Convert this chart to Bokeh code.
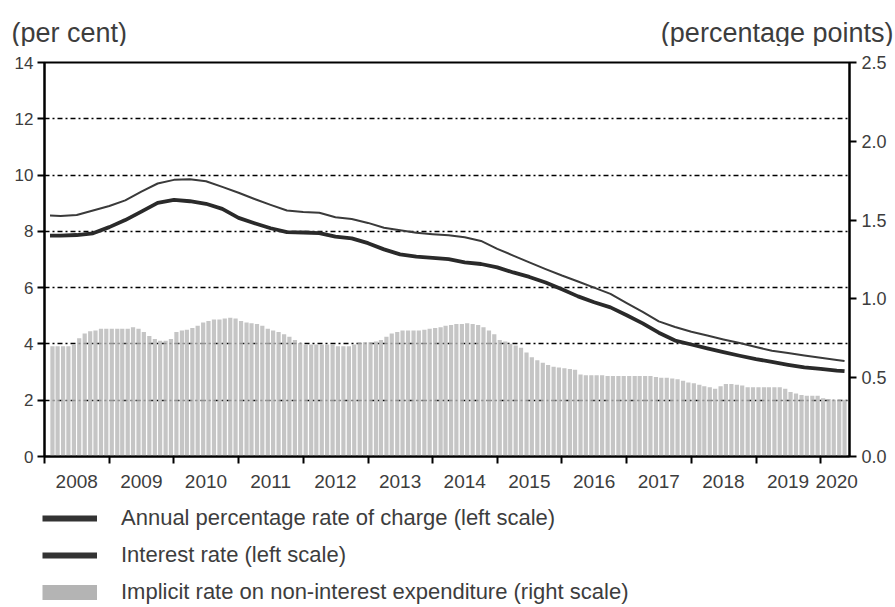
import pandas as pd
from bokeh.plotting import figure
from bokeh.layouts import column
from bokeh.models import (Range1d, LinearAxis, FixedTicker, Legend, LegendItem,
                          NumeralTickFormatter, CustomJSTickFormatter)
from bokeh.core.properties import value
from bokeh.embed import file_html
from bokeh.resources import INLINE

# ---------------- data ----------------
years = ["2008", "2009", "2010", "2011", "2012", "2013", "2014",
         "2015", "2016", "2017", "2018", "2019", "2020"]
year_label_dates = ["2008-07-01", "2009-07-01", "2010-07-01", "2011-07-01", "2012-07-01",
                    "2013-07-01", "2014-07-01", "2015-07-01", "2016-07-01", "2017-07-01",
                    "2018-07-01", "2019-07-01", "2020-04-01"]
year_tick_dates = ["2008-01-01", "2009-01-01", "2010-01-01", "2011-01-01", "2012-01-01",
                   "2013-01-01", "2014-01-01", "2015-01-01", "2016-01-01", "2017-01-01",
                   "2018-01-01", "2019-01-01", "2020-01-01"]

# Implicit rate on non-interest expenditure (right scale), monthly Feb 2008 - May 2020
implicit_rate = [
    0.70, 0.70, 0.70, 0.70, 0.71, 0.75, 0.78, 0.795, 0.80, 0.81, 0.81,
    0.81, 0.81, 0.81, 0.81, 0.82, 0.81, 0.79, 0.765, 0.745, 0.735, 0.735, 0.745,
    0.79, 0.80, 0.805, 0.815, 0.83, 0.85, 0.86, 0.87, 0.87, 0.875, 0.88, 0.875,
    0.86, 0.85, 0.845, 0.84, 0.83, 0.81, 0.80, 0.79, 0.775, 0.76, 0.74, 0.72,
    0.71, 0.71, 0.71, 0.71, 0.71, 0.71, 0.70, 0.70, 0.70, 0.71, 0.72, 0.725,
    0.725, 0.73, 0.74, 0.76, 0.78, 0.79, 0.80, 0.80, 0.80, 0.80, 0.805, 0.81,
    0.815, 0.82, 0.83, 0.835, 0.84, 0.84, 0.845, 0.84, 0.835, 0.82, 0.80, 0.775,
    0.74, 0.73, 0.715, 0.705, 0.69, 0.66, 0.63, 0.61, 0.595, 0.58, 0.57, 0.565,
    0.56, 0.555, 0.55, 0.52, 0.515, 0.515, 0.515, 0.515, 0.51, 0.51, 0.51, 0.51,
    0.51, 0.51, 0.51, 0.51, 0.51, 0.505, 0.50, 0.50, 0.495, 0.49, 0.48, 0.47,
    0.465, 0.455, 0.445, 0.44, 0.43, 0.445, 0.46, 0.46, 0.455, 0.45, 0.44, 0.44,
    0.44, 0.44, 0.44, 0.44, 0.44, 0.43, 0.41, 0.40, 0.39, 0.385, 0.385, 0.385,
    0.37, 0.365, 0.36, 0.36, 0.36,
]

# Lines (left scale): first point, quarterly points, last point
line_dates = (["2008-02-01"]
              + [d.strftime("%Y-%m-%d") for d in pd.date_range("2008-04-01", "2020-04-01", freq="QS")]
              + ["2020-05-15"])
aprc = [
    8.56,
    8.55, 8.58, 8.74, 8.90, 9.10, 9.41, 9.70, 9.83, 9.85, 9.78, 9.58, 9.37, 9.15, 8.94, 8.74,
    8.69, 8.66, 8.50, 8.44, 8.30, 8.13, 8.04, 7.95, 7.90, 7.86, 7.79, 7.66, 7.38, 7.14, 6.90,
    6.66, 6.43, 6.22, 6.00, 5.78, 5.45, 5.14, 4.80, 4.60, 4.43, 4.30, 4.16, 4.03, 3.89, 3.76,
    3.68, 3.59, 3.51, 3.43,
    3.39,
]
interest_rate = [
    7.85,
    7.85, 7.87, 7.93, 8.15, 8.40, 8.70, 9.01, 9.12, 9.07, 8.98, 8.80, 8.48, 8.29, 8.11, 7.97,
    7.96, 7.94, 7.81, 7.75, 7.58, 7.36, 7.18, 7.10, 7.06, 7.01, 6.90, 6.84, 6.72, 6.54, 6.38,
    6.18, 5.94, 5.69, 5.48, 5.30, 5.02, 4.73, 4.40, 4.12, 3.98, 3.84, 3.71, 3.58, 3.46, 3.36,
    3.26, 3.17, 3.11, 3.05,
    3.03,
]

left_unit = "(per cent)"
right_unit = "(percentage points)"
legend_labels = ["Annual percentage rate of charge (left scale)",
                 "Interest rate (left scale)",
                 "Implicit rate on non-interest expenditure (right scale)"]

x_start, x_end = "2008-01-01", "2020-06-12"
left_ticks = [0, 2, 4, 6, 8, 10, 12, 14]
right_ticks = [0, 0.5, 1.0, 1.5, 2.0, 2.5]


def to_ms(d):
    idx = pd.to_datetime(pd.Index(d) if isinstance(d, list) else [d])
    vals = ((idx - pd.Timestamp("1970-01-01")) // pd.Timedelta(milliseconds=1)).tolist()
    return [float(v) for v in vals]


bar_x = to_ms([d.strftime("%Y-%m-%d") for d in
               (pd.date_range("2008-02-01", periods=len(implicit_rate), freq="MS") + pd.Timedelta(days=14))])
line_x = to_ms(line_dates)
label_ms = to_ms(year_label_dates)
tick_ms = to_ms(year_tick_dates)
MONTH_MS = 30.44 * 24 * 3600 * 1000.0

FONT = "Liberation Sans"
TXT = "#3d3d3d"
W = 895
H_HEAD, H_MAIN = 46, 459
H_LEG = 607 - H_HEAD - H_MAIN

# ---------------- header with unit labels ----------------
head = figure(width=W, height=H_HEAD, output_backend="svg", toolbar_location=None,
              x_axis_type=None, y_axis_type=None, min_border=0,
              x_range=Range1d(0, W), y_range=Range1d(0, H_HEAD))
head.frame_align = False
head.outline_line_color = None
head.background_fill_color = "white"
head.border_fill_color = "white"
head.text(x=[11], y=[14], text=[left_unit], text_font=value(FONT), text_font_size="27px",
          text_color=TXT, text_align="left", text_baseline="alphabetic")
head.text(x=[893], y=[14], text=[right_unit], text_font=value(FONT), text_font_size="27px",
          text_color=TXT, text_align="right", text_baseline="alphabetic")

# ---------------- main chart ----------------
p = figure(width=W, height=H_MAIN, output_backend="svg", toolbar_location=None,
           x_range=Range1d(to_ms(x_start)[0], to_ms(x_end)[0]), y_range=Range1d(0, 14),
           x_axis_type=None, min_border_left=44, min_border_right=46,
           min_border_top=16, min_border_bottom=49)
p.frame_align = False
p.background_fill_color = "white"
p.border_fill_color = "white"
p.outline_line_color = "black"
p.outline_line_width = 2
p.extra_y_ranges = {"right": Range1d(0, 2.5)}

p.ygrid.ticker = FixedTicker(ticks=left_ticks)
p.ygrid.grid_line_color = "black"
p.ygrid.grid_line_width = 1.3
p.ygrid.grid_line_dash = "5 3 2 3"

p.vbar(x=bar_x, top=implicit_rate, width=MONTH_MS * 0.78, bottom=0, y_range_name="right",
       fill_color="#b6b6b6", fill_alpha=0.8, line_color=None)
p.line(line_x, aprc, line_width=2.0, line_color="#3a3a3a", line_join="round")
p.line(line_x, interest_rate, line_width=3.8, line_color="#2a2a2a", line_join="round")

ya = p.yaxis[0]
ya.ticker = FixedTicker(ticks=left_ticks)
ya.axis_line_width = 2
ya.axis_line_color = "black"
ya.major_tick_out = 7
ya.major_tick_in = 0
ya.major_tick_line_width = 2
ya.minor_tick_line_color = None
ya.major_label_standoff = 4
ya.major_label_text_font = FONT
ya.major_label_text_font_size = "17px"
ya.major_label_text_color = TXT

ra = LinearAxis(y_range_name="right", ticker=FixedTicker(ticks=right_ticks),
                formatter=NumeralTickFormatter(format="0.0"))
ra.axis_line_width = 2
ra.major_tick_out = 7
ra.major_tick_in = 0
ra.major_tick_line_width = 2
ra.minor_tick_line_color = None
ra.major_label_standoff = 5
ra.major_label_text_font = FONT
ra.major_label_text_font_size = "18px"
ra.major_label_text_color = TXT
p.add_layout(ra, "right")

xa = LinearAxis(ticker=FixedTicker(ticks=label_ms, minor_ticks=tick_ms),
                formatter=CustomJSTickFormatter(args=dict(pos=label_ms, labels=years), code="""
                    let best = 0, bd = Infinity;
                    for (let i = 0; i < pos.length; i++) {
                        const d = Math.abs(pos[i] - tick);
                        if (d < bd) { bd = d; best = i; }
                    }
                    return labels[best];
                """))
xa.axis_line_width = 2
xa.axis_line_color = "black"
xa.major_tick_out = 0
xa.major_tick_in = 0
xa.major_tick_line_color = None
xa.minor_tick_out = 7
xa.minor_tick_in = 0
xa.minor_tick_line_width = 2
xa.minor_tick_line_color = "black"
xa.major_label_standoff = 11
xa.major_label_text_font = FONT
xa.major_label_text_font_size = "19px"
xa.major_label_text_color = TXT
p.add_layout(xa, "below")

# ---------------- legend ----------------
leg = figure(width=W, height=H_LEG, output_backend="svg", toolbar_location=None,
             x_axis_type=None, y_axis_type=None, x_range=Range1d(0, 1), y_range=Range1d(0, 1),
             min_border_left=42, min_border_top=0, min_border_right=0, min_border_bottom=0)
leg.frame_align = False
leg.outline_line_color = None
leg.background_fill_color = "white"
leg.border_fill_color = "white"
# legend-only renderers: their points lie outside the visible range
g1 = leg.line(x=[5, 6], y=[5, 5], line_width=6, line_color="#333333")
g2 = leg.line(x=[5, 6], y=[5, 5], line_width=6, line_color="#333333")
g3 = leg.line(x=[5, 6], y=[5, 5], line_width=15, line_color="#b4b4b4", line_cap="butt")
legend = Legend(items=[LegendItem(label=lab, renderers=[r])
                       for lab, r in zip(legend_labels, [g1, g2, g3])],
                location="top_left", glyph_width=55, glyph_height=24, label_height=24,
                label_standoff=24, spacing=11, padding=0, margin=0,
                border_line_color=None, background_fill_alpha=0,
                label_text_font=FONT, label_text_font_size="22px", label_text_color=TXT)
leg.add_layout(legend)

layout = column(head, p, leg, spacing=0)
open("out.html", "w").write(file_html(layout, INLINE))
